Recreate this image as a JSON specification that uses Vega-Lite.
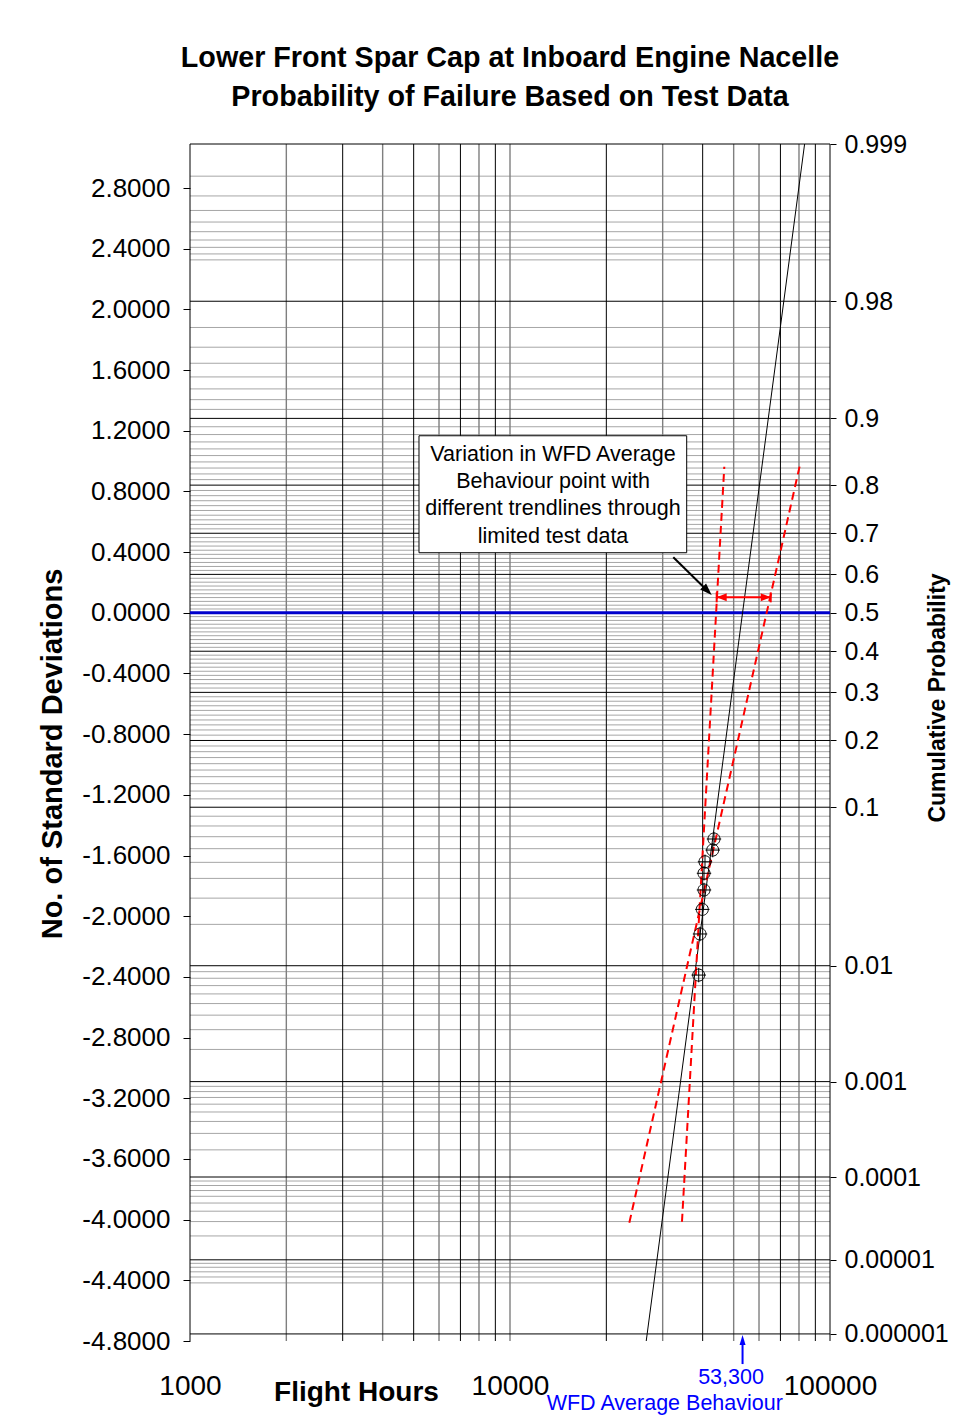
{
  "$schema": "https://vega.github.io/schema/vega-lite/v6.json",
  "autosize": {"type": "none"},
  "padding": {"left": 190, "top": 144, "right": 124, "bottom": 75},
  "width": 640,
  "height": 1197,
  "background": "white",
  "title": {
    "text": ["Lower Front Spar Cap at Inboard Engine Nacelle", "Probability of Failure Based on Test Data"],
    "font": "Liberation Sans", "fontSize": 28.7, "fontWeight": "bold", "lineHeight": 39,
    "offset": 20, "anchor": "middle", "color": "black"
  },
  "config": {
    "view": {"stroke": null},
    "font": "Liberation Sans",
    "axis": {"labelFont": "Liberation Sans", "titleFont": "Liberation Sans", "labelColor": "black", "titleColor": "black", "tickColor": "black", "grid": false, "domain": false}
  },
  "datasets": {
    "hgray": [
      {"z": 2.8782}, {"z": 2.7478}, {"z": 2.6521}, {"z": 2.5758}, {"z": 2.5121}, {"z": 2.4573}, {"z": 2.4089}, {"z": 2.3656}, {"z": 2.3263},
      {"z": 1.3408}, {"z": 1.4051}, {"z": 1.4758}, {"z": 1.5548}, {"z": 1.6449}, {"z": 1.7507}, {"z": 1.8808},
      {"z": 0.8779}, {"z": 0.9154}, {"z": 0.9542}, {"z": 0.9945}, {"z": 1.0364}, {"z": 1.0803}, {"z": 1.1264}, {"z": 1.175}, {"z": 1.2265},
      {"z": 0.5534}, {"z": 0.5828}, {"z": 0.6128}, {"z": 0.6433}, {"z": 0.6745}, {"z": 0.7063}, {"z": 0.7388}, {"z": 0.7722}, {"z": 0.8064},
      {"z": 0.2793}, {"z": 0.3055}, {"z": 0.3319}, {"z": 0.3585}, {"z": 0.3853}, {"z": 0.4125}, {"z": 0.4399}, {"z": 0.4677}, {"z": 0.4959},
      {"z": 0.0251}, {"z": 0.0502}, {"z": 0.0753}, {"z": 0.1004}, {"z": 0.1257}, {"z": 0.151}, {"z": 0.1764}, {"z": 0.2019}, {"z": 0.2275},
      {"z": -0.0251}, {"z": -0.0502}, {"z": -0.0753}, {"z": -0.1004}, {"z": -0.1257}, {"z": -0.151}, {"z": -0.1764}, {"z": -0.2019}, {"z": -0.2275},
      {"z": -0.2793}, {"z": -0.3055}, {"z": -0.3319}, {"z": -0.3585}, {"z": -0.3853}, {"z": -0.4125}, {"z": -0.4399}, {"z": -0.4677}, {"z": -0.4959},
      {"z": -0.5534}, {"z": -0.5828}, {"z": -0.6128}, {"z": -0.6433}, {"z": -0.6745}, {"z": -0.7063}, {"z": -0.7388}, {"z": -0.7722}, {"z": -0.8064},
      {"z": -0.8779}, {"z": -0.9154}, {"z": -0.9542}, {"z": -0.9945}, {"z": -1.0364}, {"z": -1.0803}, {"z": -1.1264}, {"z": -1.175}, {"z": -1.2265},
      {"z": -1.3408}, {"z": -1.4051}, {"z": -1.4758}, {"z": -1.5548}, {"z": -1.6449}, {"z": -1.7507}, {"z": -1.8808}, {"z": -2.0537},
      {"z": -2.3656}, {"z": -2.4089}, {"z": -2.4573}, {"z": -2.5121}, {"z": -2.5758}, {"z": -2.6521}, {"z": -2.7478}, {"z": -2.8782},
      {"z": -3.1214}, {"z": -3.1559}, {"z": -3.1947}, {"z": -3.2389}, {"z": -3.2905}, {"z": -3.3528}, {"z": -3.4316}, {"z": -3.5401},
      {"z": -3.7455}, {"z": -3.775}, {"z": -3.8082}, {"z": -3.8461}, {"z": -3.8906}, {"z": -3.9444}, {"z": -4.0128}, {"z": -4.1075},
      {"z": -4.288}, {"z": -4.314}, {"z": -4.344}, {"z": -4.378}, {"z": -4.417}
    ],
    "hblack": [
      {"z": 3.0902}, {"z": 2.0537}, {"z": 1.2816}, {"z": 0.8416}, {"z": 0.5244}, {"z": 0.2533}, {"z": -0.2533}, {"z": -0.5244},
      {"z": -0.8416}, {"z": -1.2816}, {"z": -2.3263}, {"z": -3.0902}, {"z": -3.719}, {"z": -4.2649}, {"z": -4.7534}
    ],
    "vgray": [{"h": 2000}, {"h": 4000}, {"h": 6000}, {"h": 8000}, {"h": 10000}, {"h": 30000}, {"h": 50000}, {"h": 60000}, {"h": 80000}],
    "vblack": [{"h": 1000}, {"h": 3000}, {"h": 5000}, {"h": 7000}, {"h": 9000}, {"h": 20000}, {"h": 40000}, {"h": 70000}, {"h": 90000}, {"h": 100000}],
    "wfd": [{"z": 0}],
    "fit": [{"h": 83300, "z": 3.0902}, {"h": 53300, "z": 0}, {"h": 26650, "z": -4.8}],
    "dashed": [
      {"line": "A", "h": 46740, "z": 0.963}, {"line": "A", "h": 34470, "z": -4.014},
      {"line": "B", "h": 80970, "z": 0.996}, {"line": "B", "h": 23600, "z": -4.02}
    ],
    "tests": [
      {"h": 43400, "z": -1.491}, {"h": 43000, "z": -1.564}, {"h": 40680, "z": -1.641}, {"h": 40390, "z": -1.717},
      {"h": 40390, "z": -1.827}, {"h": 39900, "z": -1.955}, {"h": 39250, "z": -2.117}, {"h": 38880, "z": -2.388}
    ],
    "box": [{"h": 5195, "h2": 35660, "z": 1.167, "z2": 0.396}],
    "note": [
      {"h": 13630, "z": 1.04, "t": "Variation in WFD Average"},
      {"h": 13630, "z": 0.864, "t": "Behaviour point with"},
      {"h": 13630, "z": 0.682, "t": "different trendlines through"},
      {"h": 13630, "z": 0.502, "t": "limited test data"}
    ],
    "pointer": [{"h": 32380, "z": 0.366}, {"h": 41390, "z": 0.145}],
    "pointerHead": [{"h": 41390, "z": 0.145}],
    "span": [{"h": 44250, "h2": 65270, "z": 0.102}],
    "spanLeft": [{"h": 45870, "z": 0.102}],
    "spanRight": [{"h": 62970, "z": 0.102}],
    "spanEnds": [{"h": 44250, "z": 0.102}, {"h": 65270, "z": 0.102}],
    "wfdArrow": [{"h": 53300, "z": -4.952, "z2": -4.8}],
    "wfdHead": [{"h": 53300, "z": -4.794}],
    "wfdLabels": [{"h": 49050, "z": -5.044, "t": "53,300"}, {"h": 30450, "z": -5.216, "t": "WFD Average Behaviour"}]
  },
  "resolve": {"axis": {"x": "independent", "y": "independent"}},
  "layer": [
    {
      "data": {"name": "hgray"},
      "mark": {"type": "rule", "color": "#a6a6a6", "strokeWidth": 1},
      "encoding": {"y": {"field": "z", "type": "quantitative", "scale": {"domain": [-4.8, 3.0902], "nice": false, "zero": false}, "axis": null}}
    },
    {
      "data": {"name": "vgray"},
      "mark": {"type": "rule", "color": "#7f7f7f", "strokeWidth": 1.4},
      "encoding": {"x": {"field": "h", "type": "quantitative", "scale": {"type": "log", "domain": [1000, 100000], "nice": false}, "axis": null}}
    },
    {
      "data": {"name": "vblack"},
      "mark": {"type": "rule", "color": "black", "strokeWidth": 1},
      "encoding": {"x": {"field": "h", "type": "quantitative", "scale": {"type": "log", "domain": [1000, 100000], "nice": false},
        "axis": {"orient": "bottom", "values": [1000, 10000, 100000], "format": "d", "ticks": false, "tickSize": 0,
          "labelFontSize": 28, "labelPadding": 31, "labelFlush": false, "labelOverlap": false, "labelBound": false,
          "title": "Flight Hours", "titleFontSize": 28, "titleFontWeight": "bold", "titleX": 166, "titleY": 51,
          "titleAlign": "center", "titleBaseline": "middle"}}}
    },
    {
      "data": {"name": "hblack"},
      "mark": {"type": "rule", "color": "black", "strokeWidth": 1},
      "encoding": {"y": {"field": "z", "type": "quantitative", "scale": {"domain": [-4.8, 3.0902], "nice": false, "zero": false},
        "axis": {"orient": "left", "values": [-4.8, -4.4, -4, -3.6, -3.2, -2.8, -2.4, -2, -1.6, -1.2, -0.8, -0.4, 0, 0.4, 0.8, 1.2, 1.6, 2, 2.4, 2.8],
          "labelExpr": "replace(format(datum.value, '.4f'), '\u2212', '-')",
          "labelFontSize": 26, "labelPadding": 13, "tickSize": 7, "labelOverlap": false, "labelBound": false, "labelFlush": false,
          "title": "No. of Standard Deviations", "titleFontSize": 29, "titleFontWeight": "bold", "titleAngle": 270,
          "titleAlign": "center", "titleBaseline": "middle", "titleX": -138, "titleY": 609.5}}}
    },
    {
      "data": {"name": "wfd"},
      "mark": {"type": "rule", "color": "#0000cc", "strokeWidth": 3},
      "encoding": {"y": {"field": "z", "type": "quantitative", "scale": {"domain": [-4.8, 3.0902], "nice": false, "zero": false},
        "axis": {"orient": "right", "values": [3.0902, 2.0537, 1.2816, 0.8416, 0.5244, 0.2533, 0, -0.2533, -0.5244, -0.8416, -1.2816, -2.3263, -3.0902, -3.719, -4.2649, -4.7534],
          "labelExpr": "datum.value > 3 ? '0.999' : datum.value > 2 ? '0.98' : datum.value > 1 ? '0.9' : datum.value > 0.7 ? '0.8' : datum.value > 0.4 ? '0.7' : datum.value > 0.1 ? '0.6' : datum.value > -0.1 ? '0.5' : datum.value > -0.4 ? '0.4' : datum.value > -0.7 ? '0.3' : datum.value > -1 ? '0.2' : datum.value > -2 ? '0.1' : datum.value > -2.8 ? '0.01' : datum.value > -3.5 ? '0.001' : datum.value > -4 ? '0.0001' : datum.value > -4.5 ? '0.00001' : '0.000001'",
          "labelFontSize": 25, "labelPadding": 8, "tickSize": 6, "labelOverlap": false, "labelBound": false, "labelFlush": false,
          "title": "Cumulative Probability", "titleFontSize": 23, "titleFontWeight": "bold", "titleAngle": 270,
          "titleAlign": "center", "titleBaseline": "middle", "titleX": 107, "titleY": 553.5}}}
    },
    {
      "data": {"name": "fit"},
      "mark": {"type": "line", "color": "black", "strokeWidth": 1},
      "encoding": {
        "x": {"field": "h", "type": "quantitative", "scale": {"type": "log", "domain": [1000, 100000], "nice": false}, "axis": null},
        "y": {"field": "z", "type": "quantitative", "scale": {"domain": [-4.8, 3.0902], "nice": false, "zero": false}, "axis": null}
      }
    },
    {
      "data": {"name": "dashed"},
      "mark": {"type": "line", "color": "#ff0000", "strokeWidth": 2, "strokeDash": [8, 5]},
      "encoding": {
        "x": {"field": "h", "type": "quantitative", "scale": {"type": "log", "domain": [1000, 100000], "nice": false}, "axis": null},
        "y": {"field": "z", "type": "quantitative", "scale": {"domain": [-4.8, 3.0902], "nice": false, "zero": false}, "axis": null},
        "detail": {"field": "line", "type": "nominal"}
      }
    },
    {
      "data": {"name": "tests"},
      "mark": {"type": "point", "shape": "M-1,0A1,1,0,1,0,1,0A1,1,0,1,0,-1,0M-1.2,0L1.2,0M0,-1.2L0,1.2", "size": 144, "filled": false, "stroke": "black", "strokeWidth": 1, "opacity": 1},
      "encoding": {
        "x": {"field": "h", "type": "quantitative", "scale": {"type": "log", "domain": [1000, 100000], "nice": false}, "axis": null},
        "y": {"field": "z", "type": "quantitative", "scale": {"domain": [-4.8, 3.0902], "nice": false, "zero": false}, "axis": null}
      }
    },
    {
      "data": {"name": "box"},
      "mark": {"type": "rect", "fill": "white", "stroke": "black", "strokeWidth": 1},
      "encoding": {
        "x": {"field": "h", "type": "quantitative", "scale": {"type": "log", "domain": [1000, 100000], "nice": false}, "axis": null},
        "x2": {"field": "h2"},
        "y": {"field": "z", "type": "quantitative", "scale": {"domain": [-4.8, 3.0902], "nice": false, "zero": false}, "axis": null},
        "y2": {"field": "z2"}
      }
    },
    {
      "data": {"name": "note"},
      "mark": {"type": "text", "font": "Liberation Sans", "fontSize": 21.5, "align": "center", "baseline": "middle", "color": "black"},
      "encoding": {
        "x": {"field": "h", "type": "quantitative", "scale": {"type": "log", "domain": [1000, 100000], "nice": false}, "axis": null},
        "y": {"field": "z", "type": "quantitative", "scale": {"domain": [-4.8, 3.0902], "nice": false, "zero": false}, "axis": null},
        "text": {"field": "t", "type": "nominal"}
      }
    },
    {
      "data": {"name": "pointer"},
      "mark": {"type": "line", "color": "black", "strokeWidth": 2},
      "encoding": {
        "x": {"field": "h", "type": "quantitative", "scale": {"type": "log", "domain": [1000, 100000], "nice": false}, "axis": null},
        "y": {"field": "z", "type": "quantitative", "scale": {"domain": [-4.8, 3.0902], "nice": false, "zero": false}, "axis": null}
      }
    },
    {
      "data": {"name": "pointerHead"},
      "mark": {"type": "point", "shape": "M1,0L-1,-0.7L-1,0.7Z", "size": 144, "filled": true, "color": "black", "angle": 44.5, "opacity": 1},
      "encoding": {
        "x": {"field": "h", "type": "quantitative", "scale": {"type": "log", "domain": [1000, 100000], "nice": false}, "axis": null},
        "y": {"field": "z", "type": "quantitative", "scale": {"domain": [-4.8, 3.0902], "nice": false, "zero": false}, "axis": null}
      }
    },
    {
      "data": {"name": "span"},
      "mark": {"type": "rule", "color": "#ff0000", "strokeWidth": 2},
      "encoding": {
        "x": {"field": "h", "type": "quantitative", "scale": {"type": "log", "domain": [1000, 100000], "nice": false}, "axis": null},
        "x2": {"field": "h2"},
        "y": {"field": "z", "type": "quantitative", "scale": {"domain": [-4.8, 3.0902], "nice": false, "zero": false}, "axis": null}
      }
    },
    {
      "data": {"name": "spanLeft"},
      "mark": {"type": "point", "shape": "M-1,0L1,-0.8L1,0.8Z", "size": 100, "filled": true, "color": "#ff0000", "opacity": 1},
      "encoding": {
        "x": {"field": "h", "type": "quantitative", "scale": {"type": "log", "domain": [1000, 100000], "nice": false}, "axis": null},
        "y": {"field": "z", "type": "quantitative", "scale": {"domain": [-4.8, 3.0902], "nice": false, "zero": false}, "axis": null}
      }
    },
    {
      "data": {"name": "spanRight"},
      "mark": {"type": "point", "shape": "M1,0L-1,-0.8L-1,0.8Z", "size": 100, "filled": true, "color": "#ff0000", "opacity": 1},
      "encoding": {
        "x": {"field": "h", "type": "quantitative", "scale": {"type": "log", "domain": [1000, 100000], "nice": false}, "axis": null},
        "y": {"field": "z", "type": "quantitative", "scale": {"domain": [-4.8, 3.0902], "nice": false, "zero": false}, "axis": null}
      }
    },
    {
      "data": {"name": "spanEnds"},
      "mark": {"type": "point", "shape": "M0,-1L0,1", "size": 100, "filled": false, "stroke": "#ff0000", "strokeWidth": 2, "opacity": 1},
      "encoding": {
        "x": {"field": "h", "type": "quantitative", "scale": {"type": "log", "domain": [1000, 100000], "nice": false}, "axis": null},
        "y": {"field": "z", "type": "quantitative", "scale": {"domain": [-4.8, 3.0902], "nice": false, "zero": false}, "axis": null}
      }
    },
    {
      "data": {"name": "wfdArrow"},
      "mark": {"type": "rule", "color": "#0000ff", "strokeWidth": 2},
      "encoding": {
        "x": {"field": "h", "type": "quantitative", "scale": {"type": "log", "domain": [1000, 100000], "nice": false}, "axis": null},
        "y": {"field": "z", "type": "quantitative", "scale": {"domain": [-4.8, 3.0902], "nice": false, "zero": false}, "axis": null},
        "y2": {"field": "z2"}
      }
    },
    {
      "data": {"name": "wfdHead"},
      "mark": {"type": "point", "shape": "M0,-1L-0.6,1L0.6,1Z", "size": 100, "filled": true, "color": "#0000ff", "opacity": 1},
      "encoding": {
        "x": {"field": "h", "type": "quantitative", "scale": {"type": "log", "domain": [1000, 100000], "nice": false}, "axis": null},
        "y": {"field": "z", "type": "quantitative", "scale": {"domain": [-4.8, 3.0902], "nice": false, "zero": false}, "axis": null}
      }
    },
    {
      "data": {"name": "wfdLabels"},
      "mark": {"type": "text", "font": "Liberation Sans", "fontSize": 21.5, "align": "center", "baseline": "middle", "color": "#0000ff"},
      "encoding": {
        "x": {"field": "h", "type": "quantitative", "scale": {"type": "log", "domain": [1000, 100000], "nice": false}, "axis": null},
        "y": {"field": "z", "type": "quantitative", "scale": {"domain": [-4.8, 3.0902], "nice": false, "zero": false}, "axis": null},
        "text": {"field": "t", "type": "nominal"}
      }
    }
  ]
}
